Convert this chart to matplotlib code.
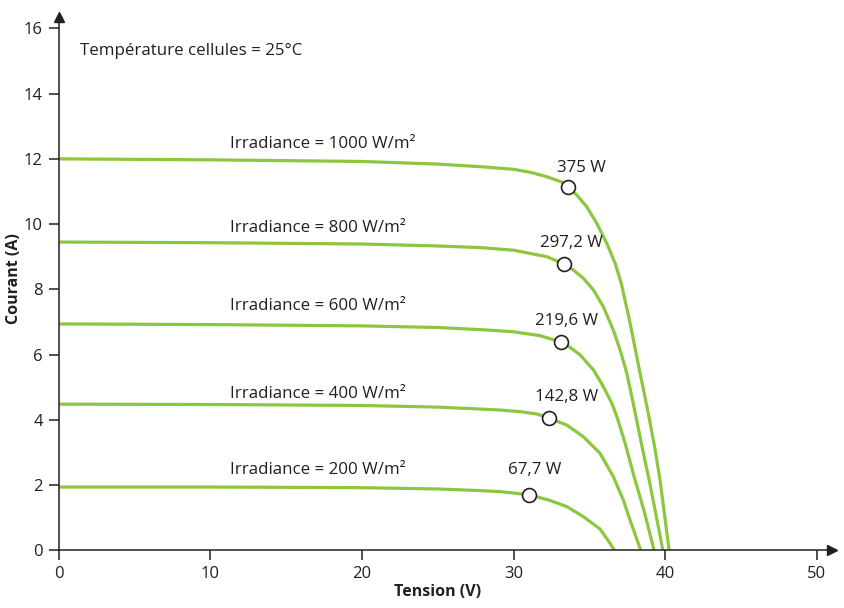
import matplotlib.pyplot as plt

plt.rcParams['font.family'] = ['Open Sans', 'DejaVu Sans']

# I-V curves (tension V, courant A)
v_1000 = [0, 10, 20, 25, 27.8, 30, 31.2, 32.2, 33.13, 33.58, 34.17, 34.83, 35.49, 36.15, 36.7,
          37.1, 37.35, 37.6, 37.95, 38.3, 38.62, 38.97, 39.35, 39.66, 39.97, 40.26]
i_1000 = [12.0, 11.97, 11.92, 11.84, 11.76, 11.68, 11.58, 11.45, 11.30, 11.15, 10.89, 10.53, 10.02, 9.41, 8.80,
          8.19, 7.67, 7.16, 6.35, 5.53, 4.81, 4.0, 3.05, 2.16, 1.05, 0]

v_800 = [0, 10, 20, 25, 27.8, 30, 32.2, 33.35, 33.95, 34.6, 35.27, 35.92, 36.58, 37.03, 37.47,
         37.8, 38.05, 38.5, 38.96, 39.4, 39.85]
i_800 = [9.45, 9.43, 9.39, 9.33, 9.28, 9.20, 9.0, 8.77, 8.59, 8.34, 7.98, 7.47, 6.75, 6.14, 5.43,
         4.71, 4.15, 3.12, 2.12, 1.08, 0]

v_600 = [0, 10, 20, 25, 28, 30, 31.75, 33.1, 33.73, 34.39, 35.27, 35.92, 36.48, 36.85, 37.36,
         37.95, 38.59, 39.27]
i_600 = [6.94, 6.92, 6.88, 6.83, 6.76, 6.70, 6.58, 6.39, 6.22, 5.99, 5.53, 5.02, 4.51, 4.05, 3.28,
         2.26, 1.24, 0]

v_400 = [0, 10, 20, 25, 27.8, 29.11, 30.43, 31.53, 32.34, 33.51, 34.61, 35.71, 36.58, 37.24, 37.68, 38.39]
i_400 = [4.48, 4.47, 4.44, 4.39, 4.33, 4.30, 4.25, 4.18, 4.05, 3.84, 3.48, 2.97, 2.26, 1.54, 0.93, 0]

v_200 = [0, 10, 20, 25, 27.8, 29.11, 31.04, 32.33, 33.51, 34.61, 35.71, 36.37, 36.65]
i_200 = [1.94, 1.94, 1.92, 1.88, 1.83, 1.80, 1.70, 1.54, 1.34, 1.03, 0.65, 0.21, 0]

curves = [(v_1000, i_1000), (v_800, i_800), (v_600, i_600), (v_400, i_400), (v_200, i_200)]

# maximum power points
mpp_v = [33.58, 33.35, 33.1, 32.34, 31.04]
mpp_i = [11.15, 8.77, 6.39, 4.05, 1.70]
mpp_labels = ['375 W', '297,2 W', '219,6 W', '142,8 W', '67,7 W']
mpp_label_x = [34.5, 33.8, 33.5, 33.5, 31.4]
mpp_label_y = [11.72, 9.42, 7.03, 4.70, 2.46]

irr_labels = ['Irradiance = 1000 W/m²', 'Irradiance = 800 W/m²', 'Irradiance = 600 W/m²',
              'Irradiance = 400 W/m²', 'Irradiance = 200 W/m²']
irr_label_y = [12.46, 9.88, 7.49, 4.79, 2.46]

green = '#8dc63f'
dark = '#231f20'

fig = plt.figure(figsize=(8.44, 6.08), dpi=100)
ax = fig.add_axes([0.0696, 0.0949, 0.9161, 0.8772])

for v, i in curves:
    ax.plot(v, i, color=green, lw=2.3, solid_joinstyle='round', zorder=2)

ax.plot(mpp_v, mpp_i, 'o', ms=10, mfc='white', mec=dark, mew=1.2, zorder=3, clip_on=False)

for lab, x, y in zip(mpp_labels, mpp_label_x, mpp_label_y):
    ax.text(x, y, lab, ha='center', va='center', fontsize=12.2, color=dark)

for lab, y in zip(irr_labels, irr_label_y):
    ax.text(11.3, y, lab, ha='left', va='center', fontsize=12.2, color=dark)

ax.text(1.4, 15.3, 'Température cellules = 25°C', ha='left', va='center', fontsize=12.2, color=dark)

ax.set_xlim(0, 51)
ax.set_ylim(0, 16.35)
ax.set_xticks(range(0, 51, 10))
ax.set_yticks(range(0, 17, 2))

for s in ['top', 'right']:
    ax.spines[s].set_visible(False)
for s in ['left', 'bottom']:
    ax.spines[s].set_linewidth(1.1)
    ax.spines[s].set_color(dark)

# arrow heads at axis ends
ax.plot(1, 0, '>', color=dark, ms=7, transform=ax.get_yaxis_transform(), clip_on=False)
ax.plot(0, 1, '^', color=dark, ms=7, transform=ax.get_xaxis_transform(), clip_on=False)

ax.tick_params(direction='out', length=7.5, width=1.1, colors=dark, labelsize=12, pad=4)

ax.set_xlabel('Tension (V)', fontsize=11.5, fontweight='bold', color=dark)
ax.set_ylabel('Courant (A)', fontsize=11.5, fontweight='bold', color=dark)
ax.xaxis.set_label_coords(25 / 51, -0.064)
ax.yaxis.set_label_coords(-0.047, 0.51)

fig.savefig('out.png', dpi=100)
